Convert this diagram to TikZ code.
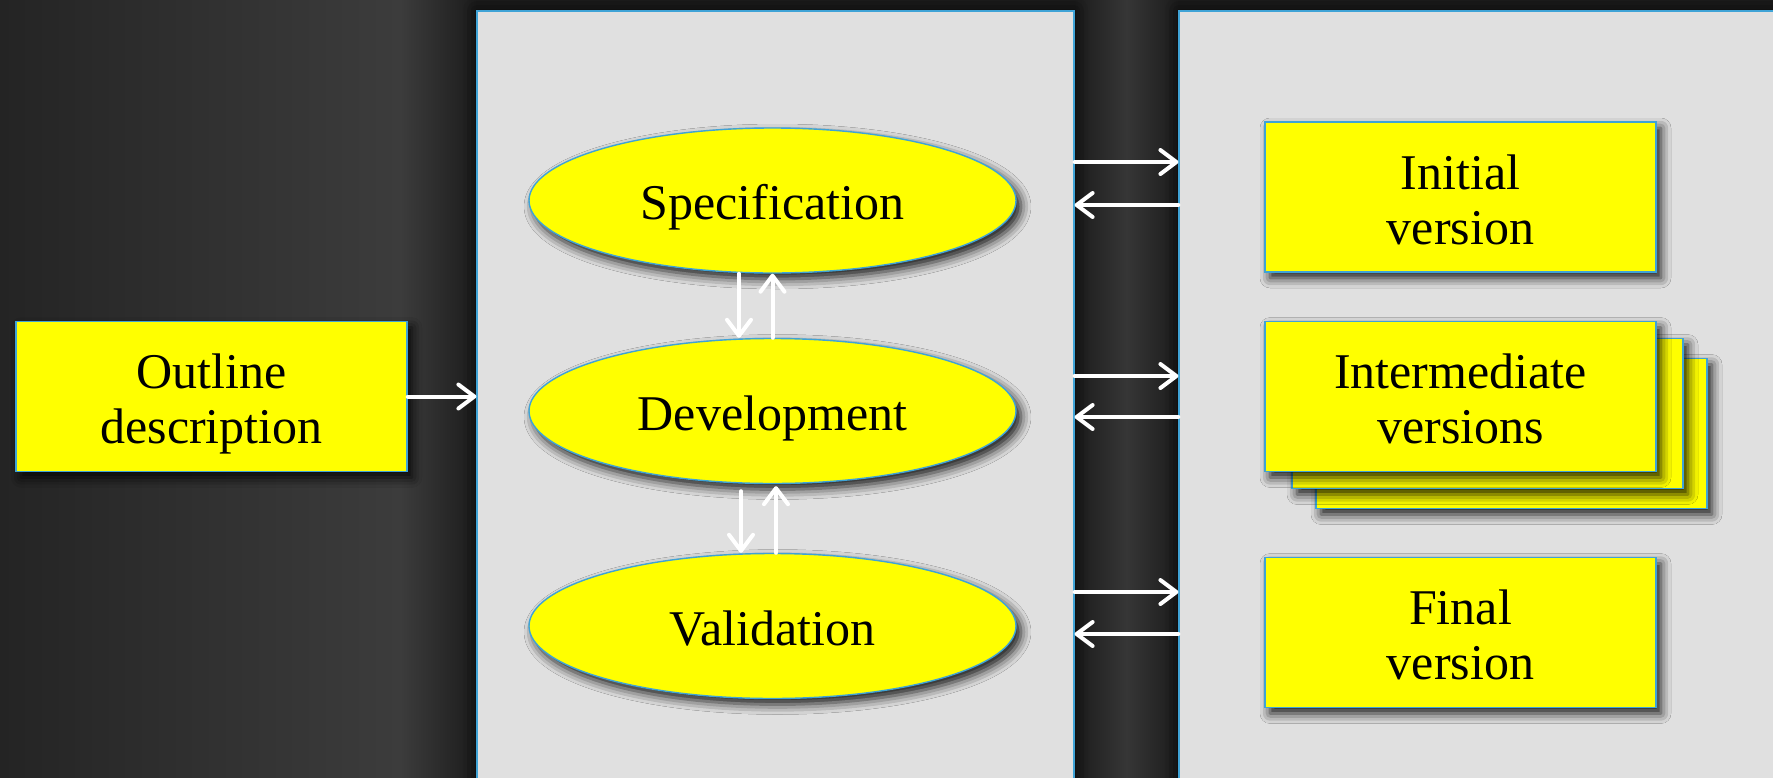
\documentclass[tikz,border=0pt]{standalone}
\usepackage{fontspec}
\setmainfont{Liberation Serif}
\usetikzlibrary{shapes.geometric,arrows.meta,shadows.blur,fit,calc}
\definecolor{bgdark}{HTML}{1C1C1C}
\definecolor{bgleft}{HTML}{242424}
\definecolor{bgmid}{HTML}{3C3C3C}
\definecolor{panelgray}{HTML}{E0E0E0}
\definecolor{edgeblue}{HTML}{3FA3D6}
\definecolor{boxyellow}{HTML}{FFFF00}
\tikzset{
  panel/.style={draw=edgeblue, line width=0.6pt, fill=panelgray, inner sep=0pt,
    blur shadow={shadow xshift=0pt, shadow yshift=0pt, shadow blur radius=7pt, shadow opacity=85}},
  shade box/.style={blur shadow={shadow xshift=2.5pt, shadow yshift=-3pt, shadow blur radius=5pt, shadow opacity=90}},
  ybox/.style={draw=edgeblue, line width=0.7pt, fill=boxyellow, minimum width=195.5pt,
    minimum height=75pt, inner sep=0pt, align=center, font=\fontsize{25}{27.5}\selectfont,
    text height=52pt, text depth=5pt, shade box},
  yell/.style={ellipse, draw=edgeblue, line width=0.7pt, fill=boxyellow, minimum width=243.5pt,
    minimum height=72.5pt, inner sep=0pt, font=\fontsize{25}{27.5}\selectfont,
    text height=24.5pt, text depth=5.5pt, shade box},
  flow/.style={draw=white, line width=2pt, line cap=round, -{Straight Barb[length=8pt,width=12pt,round]}}
}
\begin{document}
\begin{tikzpicture}[x=0.5pt,y=-0.5pt]
\clip (0,0) rectangle (1773,777);
% background
\fill[bgdark] (0,0) rectangle (1773,777);
\shade[left color=bgleft, right color=bgmid] (0,0) rectangle (400,777);
\shade[left color=bgmid, right color=bgdark] (400,0) rectangle (477,777);
\shade[left color=bgdark, right color=bgmid!90!black] (1074,0) rectangle (1126,777);
\shade[left color=bgmid!90!black, right color=bgdark] (1126,0) rectangle (1179,777);
% panels
\node[panel, fit={(477,11) (1074,830)}] (mid) {};
\node[panel, fit={(1179,11) (1830,830)}] (out) {};
% nodes
\node[ybox] (outline) at (211.5,396.5) {Outline\\description};
\node[yell] (spec) at (772.5,200.5) {Specification};
\node[yell] (dev) at (772.5,411) {Development};
\node[yell] (val) at (772.5,626) {Validation};
\node[ybox] (init) at (1460.5,197) {Initial\\version};
\node[ybox] (inter3) at (1511.5,433.5) {};
\node[ybox] (inter2) at (1487.5,413.5) {};
\node[ybox] (inter) at (1460.5,396.5) {Intermediate\\versions};
\node[ybox] (final) at (1460.5,632.5) {Final\\version};
% connectors
\draw[flow] (outline.east) -- (outline.east -| mid.west);
\draw[flow] ([xshift=-16.75pt]spec.south) -- ([xshift=-16.75pt]dev.north);
\draw[flow] (dev.north) -- (spec.south);
\draw[flow] ([xshift=-15.75pt,yshift=-3.5pt]dev.south) -- ([xshift=-15.75pt]val.north);
\draw[flow] ([xshift=1.75pt]val.north) -- ([xshift=1.75pt,yshift=-1pt]dev.south);
\coordinate (h1) at (0,162);
\coordinate (h2) at (0,205);
\coordinate (h3) at (0,376);
\coordinate (h4) at (0,417);
\coordinate (h5) at (0,592);
\coordinate (h6) at (0,634);
\draw[flow] (mid.east |- h1) -- (out.west |- h1);
\draw[flow] (out.west |- h2) -- (mid.east |- h2);
\draw[flow] (mid.east |- h3) -- (out.west |- h3);
\draw[flow] (out.west |- h4) -- (mid.east |- h4);
\draw[flow] (mid.east |- h5) -- (out.west |- h5);
\draw[flow] (out.west |- h6) -- (mid.east |- h6);
\end{tikzpicture}
\end{document}
